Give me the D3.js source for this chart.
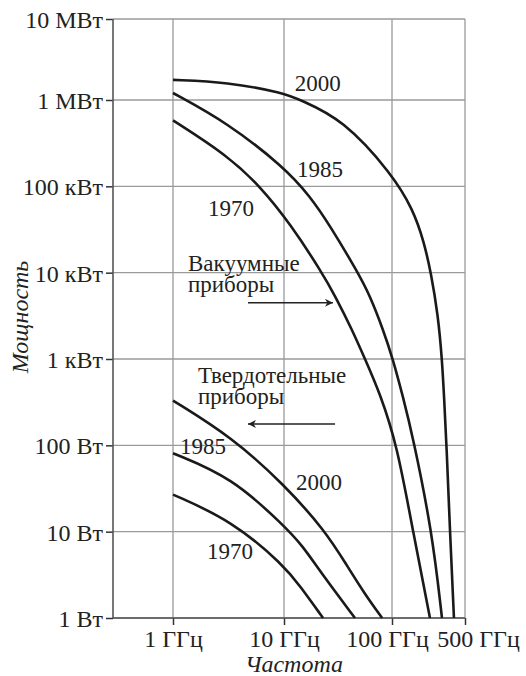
<!DOCTYPE html>
<html>
<head>
<meta charset="utf-8">
<script src="https://cdn.jsdelivr.net/npm/d3@7"></script>
<style>
  body { margin: 0; background: #fff; }
  svg text { font-family: "Liberation Serif", "DejaVu Serif", serif; fill: #222; }
</style>
</head>
<body>
<svg id="chart" width="526" height="676"></svg>
<script>
// frequency in GHz, power in W
const freqTicks = [1, 10, 100, 500];
const freqLabels = ["1 ГГц", "10 ГГц", "100 ГГц", "500 ГГц"];
const powerTicks = [1, 10, 100, 1e3, 1e4, 1e5, 1e6, 1e7];
const powerLabels = ["1 Вт", "10 Вт", "100 Вт", "1 кВт", "10 кВт", "100 кВт", "1 МВт", "10 МВт"];

// vacuum devices
const vac1970 = [[1, 5.8e5], [3.06, 2.3e5], [6.1, 1e5], [11.4, 3.7e4], [22.5, 1e4], [29.7, 5.4e3], [42.6, 2.2e3], [56.2, 1e3], [77.4, 400], [112, 100], [159, 10], [231, 1]];
const vac1985 = [[1, 1.22e6], [3.06, 5.5e5], [10, 1.67e5], [17.4, 7.7e4], [26.7, 3.5e4], [48.4, 1e4], [62.5, 5.4e3], [82.6, 2.2e3], [102, 1e3], [127, 370], [159, 124], [242, 10], [301, 1]];
const vac2000 = [[1, 1.77e6], [3.06, 1.67e6], [10, 1.22e6], [14.1, 1e6], [35, 6.0e5], [100, 1.39e5], [159, 5.4e4], [202, 2.3e4], [236, 1e4], [276, 3.2e3], [301, 1e3], [315, 370], [333, 100], [359, 10], [392, 1]];

// solid state devices
const ss1970 = [[1, 26.9], [3.4, 13.4], [10, 4.05], [14.1, 2.34], [23, 1]];
const ss1985 = [[1, 81], [3.4, 42.5], [10, 11.7], [14.7, 7.0], [23, 3.1], [45.4, 1]];
const ss2000 = [[1, 330], [3.4, 124], [10, 35.2], [24, 10.3], [38.3, 4.05], [56.2, 1.88], [81, 1]];

const curves = [vac1970, vac1985, vac2000, ss1970, ss1985, ss2000];

// text annotations: [GHz, W] of the left baseline
const notes = [
  { t: "2000", at: [12.6, 1.29e6] },
  { t: "1985", at: [13.2, 1.29e5] },
  { t: "1970", at: [2.07, 4.52e4] },
  { t: "Вакуумные", at: [1.365, 1.05e4] },
  { t: "приборы", at: [1.365, 6.0e3] },
  { t: "Твердотельные", at: [1.68, 522] },
  { t: "приборы", at: [1.68, 300] },
  { t: "1985", at: [1.157, 78.6] },
  { t: "2000", at: [12.9, 30] },
  { t: "1970", at: [2.02, 4.77] }
];
const arrows = [
  { from: [4.74, 4.48e3], to: [28.4, 4.48e3] },
  { from: [29.7, 177], to: [4.74, 177] }
];

const svg = d3.select("#chart");
const plotLeft = 113;

const x = d3.scaleLog().domain(freqTicks).range([173, 284, 392, 465]);
const y = d3.scaleLog().domain([1, 1e6, 1e7]).range([618, 100, 19]);

const plotRight = x(500), plotTop = y(1e7), plotBottom = y(1);

svg.append("defs").append("marker")
  .attr("id", "arr")
  .attr("viewBox", "0 0 10 10")
  .attr("refX", 10).attr("refY", 5)
  .attr("markerWidth", 16).attr("markerHeight", 8)
  .attr("markerUnits", "userSpaceOnUse")
  .attr("orient", "auto")
  .append("path")
  .attr("d", "M0,0 L10,5 L0,10 L3,5 Z")
  .style("fill", "#222");

// grid
const grid = svg.append("g");
grid.selectAll(".h").data(powerTicks).enter().append("line")
  .attr("x1", plotLeft).attr("x2", plotRight)
  .attr("y1", d => y(d)).attr("y2", d => y(d))
  .style("stroke", "#9a9a9a").style("stroke-width", 1.3);
grid.selectAll(".v").data(freqTicks).enter().append("line")
  .attr("x1", d => x(d)).attr("x2", d => x(d))
  .attr("y1", plotTop).attr("y2", plotBottom)
  .style("stroke", "#9a9a9a").style("stroke-width", 1.3);

// axes
const yAxis = d3.axisLeft(y)
  .tickValues(powerTicks)
  .tickFormat((d, i) => powerLabels[i])
  .tickSize(7).tickSizeOuter(0).tickPadding(3);
const gy = svg.append("g").attr("transform", "translate(" + plotLeft + ",0)").call(yAxis);
gy.select(".domain").remove();
gy.selectAll("line").style("stroke", "#333").style("stroke-width", 1.5);
gy.selectAll("text").style("font-size", "24px").attr("dy", "0.36em");

const xAxis = d3.axisBottom(x)
  .tickValues(freqTicks)
  .tickFormat((d, i) => freqLabels[i])
  .tickSize(7).tickSizeOuter(0).tickPadding(5);
const gx = svg.append("g").attr("transform", "translate(0," + plotBottom + ")").call(xAxis);
gx.select(".domain").remove();
gx.selectAll("line").style("stroke", "#333").style("stroke-width", 1.5);
gx.selectAll("text").style("font-size", "24px")
  .attr("dx", (d, i) => [0, 0, -5, 13][i]);

svg.append("line")
  .attr("x1", plotLeft).attr("x2", plotLeft).attr("y1", plotTop).attr("y2", plotBottom)
  .style("stroke", "#555").style("stroke-width", 1.6);
svg.append("line")
  .attr("x1", plotLeft).attr("x2", plotRight).attr("y1", plotBottom).attr("y2", plotBottom)
  .style("stroke", "#555").style("stroke-width", 1.6);

// curves, smoothed with a b-spline through the read-off points
const line = d3.line()
  .x(d => x(d[0]))
  .y(d => y(d[1]))
  .curve(d3.curveBasis);

svg.selectAll(".curve").data(curves).enter().append("path")
  .attr("d", line)
  .style("fill", "none")
  .style("stroke", "#1a1a1a")
  .style("stroke-width", 2.6);

// annotations
svg.selectAll(".note").data(notes).enter().append("text")
  .attr("x", d => x(d.at[0]))
  .attr("y", d => y(d.at[1]))
  .style("font-size", "23px")
  .text(d => d.t);

svg.selectAll(".arrow").data(arrows).enter().append("line")
  .attr("x1", d => x(d.from[0])).attr("y1", d => y(d.from[1]))
  .attr("x2", d => x(d.to[0])).attr("y2", d => y(d.to[1]))
  .style("stroke", "#222").style("stroke-width", 1.5)
  .attr("marker-end", "url(#arr)");

// axis titles
svg.append("text")
  .attr("transform", "translate(28,317) rotate(-90)")
  .attr("text-anchor", "middle")
  .style("font-size", "24px").style("font-style", "italic")
  .text("Мощность");

svg.append("text")
  .attr("x", 294).attr("y", 672)
  .attr("text-anchor", "middle")
  .style("font-size", "24px").style("font-style", "italic")
  .text("Частота");
</script>
</body>
</html>
